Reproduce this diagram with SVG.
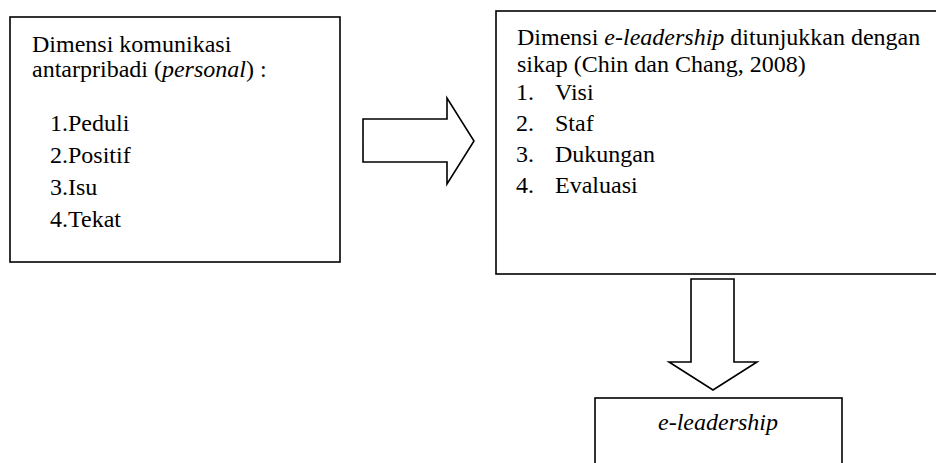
<svg xmlns="http://www.w3.org/2000/svg" width="936" height="463" viewBox="0 0 936 463">
<style>
.box{fill:#fff;stroke:#000;stroke-width:1.6}
.arr{fill:#fff;stroke:#000;stroke-width:1.6;stroke-linejoin:miter}
text{font-family:'Liberation Serif','Times New Roman',Tinos,'DejaVu Serif',serif;font-size:24px;fill:#000}
.it{font-style:italic}
</style>
<rect width="936" height="463" fill="#fff"/>
<g font-family="Liberation Serif">
<g id="node-personal">
<rect class="box" x="10" y="17" width="330" height="245"/>
<text x="32" y="52">Dimensi komunikasi</text>
<text x="32" y="77">antarpribadi (<tspan class="it">personal</tspan>) :</text>
<text x="50" y="131">1.Peduli</text>
<text x="50" y="163">2.Positif</text>
<text x="50" y="195">3.Isu</text>
<text x="50" y="227">4.Tekat</text>
</g>
<g id="node-dimensi">
<rect class="box" x="496" y="11" width="450" height="263"/>
<text x="517" y="45">Dimensi <tspan class="it">e-leadership</tspan> ditunjukkan dengan</text>
<text x="517" y="72">sikap (Chin dan Chang, 2008)</text>
<text x="516" y="100">1.</text><text x="555" y="100">Visi</text>
<text x="516" y="131">2.</text><text x="555" y="131">Staf</text>
<text x="516" y="162">3.</text><text x="555" y="162">Dukungan</text>
<text x="516" y="193">4.</text><text x="555" y="193">Evaluasi</text>
</g>
<g id="node-eleadership">
<rect class="box" x="595" y="398" width="247" height="80"/>
<text class="it" x="718" y="430" text-anchor="middle">e-leadership</text>
</g>
</g>
<g id="connectors">
<polygon class="arr" points="363,119 447,119 447,98 474,141 447,184 447,162 363,162"/>
<polygon class="arr" points="691,279 734,279 734,362 757,362 713,390 669,362 691,362"/>
</g>
</svg>
